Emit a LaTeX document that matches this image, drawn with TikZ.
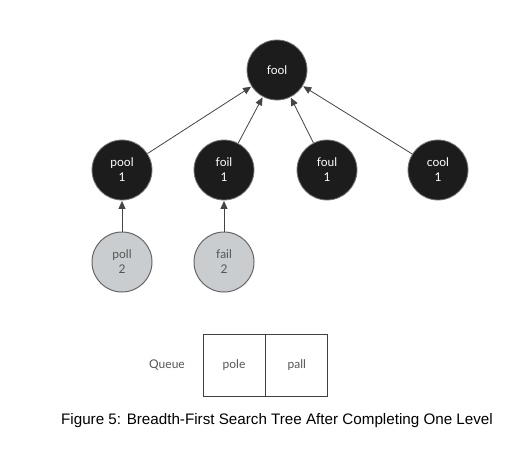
\documentclass[tikz,border=0pt]{standalone}
\usepackage{fontspec}
\setmainfont{Lato}
\newfontfamily\capfont{Liberation Sans}
\usetikzlibrary{arrows.meta}
\definecolor{nodeblack}{HTML}{1C1C1C}
\definecolor{nodegray}{HTML}{C9CDCF}
\definecolor{edgegray}{HTML}{444444}
\definecolor{txtgray}{HTML}{555555}
\tikzset{
  blacknode/.style={circle,fill=nodeblack,draw=nodeblack!60,line width=0.8pt,minimum size=60pt,inner sep=0pt,text=white,font=\fontsize{12}{15}\selectfont,align=center},
  graynode/.style={circle,fill=nodegray,draw=black!60,line width=1pt,minimum size=60pt,inner sep=0pt,text=txtgray,font=\fontsize{12}{15}\selectfont,align=center},
  arr/.style={-{Triangle[length=8pt,width=7pt]},draw=edgegray,line width=0.8pt,shorten >=0.5pt},
  cell/.style={draw=black!75,line width=0.8pt,minimum width=62pt,minimum height=62pt,inner sep=0pt,text=txtgray,font=\fontsize{12}{15}\selectfont}
}
\begin{document}
\begin{tikzpicture}[x=1pt,y=-1pt]
\useasboundingbox[fill=white] (0,0) rectangle (526,460);
\node[blacknode] (fool) at (277,70) {fool};
\node[blacknode] (pool) at (122,170) {pool\\1};
\node[blacknode] (foil) at (224,170) {foil\\1};
\node[blacknode] (foul) at (327,170) {foul\\1};
\node[blacknode] (cool) at (438,170) {cool\\1};
\node[graynode] (poll) at (122,262) {poll\\2};
\node[graynode] (fail) at (224,262) {fail\\2};
\draw[arr] (pool) -- (fool);
\draw[arr] (foil) -- (fool);
\draw[arr] (foul) -- (fool);
\draw[arr] (cool) -- (fool);
\draw[arr] (poll) -- (pool);
\draw[arr] (fail) -- (foil);
\node[cell] (pole) at (234,365) {pole};
\node[cell,anchor=west] (pall) at (pole.east) {pall};
\node[text=txtgray,font=\fontsize{12}{15}\selectfont] (queue) at (167,365) {Queue};
\node[font=\capfont\fontsize{15.2}{18}\selectfont] (caption) at (277,421) {Figure 5: Breadth-First Search Tree After Completing One Level};
\end{tikzpicture}
\end{document}
